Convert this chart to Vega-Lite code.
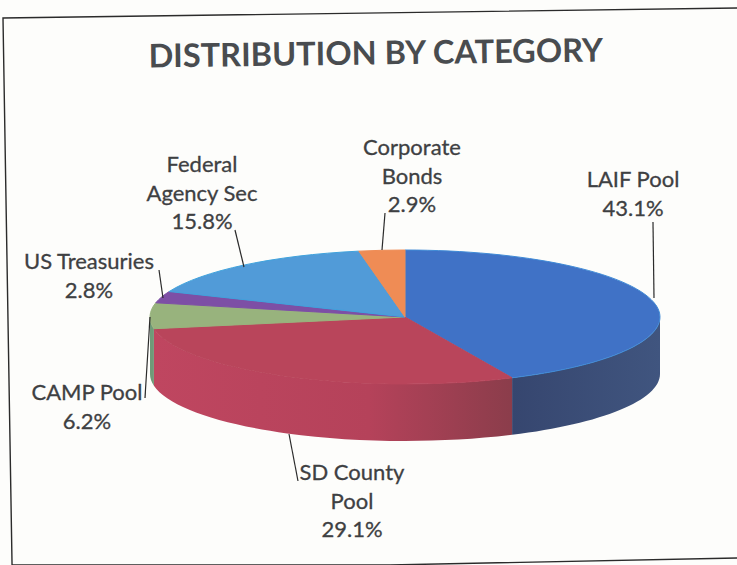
{
"$schema":"https://vega.github.io/schema/vega-lite/v6.json",
"width":737,"height":565,"padding":0,"autosize":{"type":"none"},
"background":"#fdfdfb",
"view":{"stroke":null},
"title":{"text":"DISTRIBUTION BY CATEGORY","font":"Lato","fontSize":32.5,"fontWeight":"bold","color":"#494c4f","anchor":"middle","frame":"group","offset":0,"baseline":"alphabetic","dx":6,"dy":103,"angle":-0.75},
"data":{"values":[
{"category":"LAIF Pool","share":43.1,"label":"LAIF Pool\n43.1%"},
{"category":"SD County Pool","share":29.1,"label":"SD County\nPool\n29.1%"},
{"category":"CAMP Pool","share":6.2,"label":"CAMP Pool\n6.2%"},
{"category":"US Treasuries","share":2.8,"label":"US Treasuries\n2.8%"},
{"category":"Federal Agency Sec","share":15.8,"label":"Federal\nAgency Sec\n15.8%"},
{"category":"Corporate Bonds","share":2.9,"label":"Corporate\nBonds\n2.9%"}
]},
"encoding":{},
"resolve":{"scale":{"x":"independent","y":"independent","shape":"independent","color":"independent","stroke":"independent","fill":"independent"}},
"layer":[
{"data":{"values":[{"part":"page frame"}]},
 "mark":{"type":"point","filled":false,"opacity":1,"stroke":"#2b2b2b","strokeWidth":1.4,"size":260100},
 "encoding":{
  "x":{"datum":405,"type":"quantitative","scale":{"domain":[0,737],"range":[0,737]},"axis":null},
  "y":{"datum":317,"type":"quantitative","scale":{"domain":[0,565],"range":[0,565]},"axis":null},
  "shape":{"value":"M1.302 -1.2118 L-1.5765 -1.1725 L-1.541 0.9725 L-0.0588 0.9725 L1.302 0.9451"}}},
{"transform":[{"filter":"datum.category==='LAIF Pool'"}],
 "mark":{"type":"point","filled":true,"opacity":1,"size":260100,"fill":{"gradient":"linear","x1":0,"y1":0,"x2":1,"y2":0,"stops":[{"offset":0,"color":"#36466f"},{"offset":1,"color":"#40557f"}]}},
 "encoding":{
  "x":{"datum":405,"type":"quantitative","scale":{"domain":[0,737],"range":[0,737]},"axis":null},
  "y":{"datum":317,"type":"quantitative","scale":{"domain":[0,565],"range":[0,565]},"axis":null},
  "shape":{"value":"M1 0 A1 .2627 0 0 1 .4199 .2384 L.4199 .4619 A1 .2627 0 0 0 1 .2235 Z"}}},
{"transform":[{"filter":"datum.category==='SD County Pool'"}],
 "mark":{"type":"point","filled":true,"opacity":1,"size":260100,"fill":{"gradient":"linear","x1":0,"y1":0,"x2":1,"y2":0,"stops":[{"offset":0,"color":"#bf4660"},{"offset":0.6,"color":"#b5425a"},{"offset":1,"color":"#8b3d4b"}]}},
 "encoding":{
  "x":{"datum":405,"type":"quantitative","scale":{"domain":[0,737],"range":[0,737]},"axis":null},
  "y":{"datum":317,"type":"quantitative","scale":{"domain":[0,565],"range":[0,565]},"axis":null},
  "shape":{"value":"M.4199 .2384 A1 .2627 0 0 1 -.9846 .046 L-.9846 .2695 A1 .2627 0 0 0 .4199 .4619 Z"}}},
{"transform":[{"filter":"datum.category==='CAMP Pool'"}],
 "mark":{"type":"point","filled":true,"opacity":1,"size":260100,"fill":"#6f9a78"},
 "encoding":{
  "x":{"datum":405,"type":"quantitative","scale":{"domain":[0,737],"range":[0,737]},"axis":null},
  "y":{"datum":317,"type":"quantitative","scale":{"domain":[0,565],"range":[0,565]},"axis":null},
  "shape":{"value":"M-.9846 .046 A1 .2627 0 0 1 -1 0 L-1 .2235 A1 .2627 0 0 0 -.9846 .2695 Z"}}},
{"mark":{"type":"point","filled":true,"opacity":1,"size":260100,"strokeWidth":1},
 "encoding":{
  "x":{"datum":405,"type":"quantitative","scale":{"domain":[0,737],"range":[0,737]},"axis":null},
  "y":{"datum":317,"type":"quantitative","scale":{"domain":[0,565],"range":[0,565]},"axis":null},
  "fill":{"field":"category","type":"nominal","legend":null,"scale":{"domain":["LAIF Pool","SD County Pool","CAMP Pool","US Treasuries","Federal Agency Sec","Corporate Bonds"],"range":["#4072c6","#b9455b","#98b37d","#7d4fa5","#519bd8","#ef8c55"]}},
  "stroke":{"field":"category","type":"nominal","legend":null,"scale":{"domain":["LAIF Pool","SD County Pool","CAMP Pool","US Treasuries","Federal Agency Sec","Corporate Bonds"],"range":["#3f8ad6","#b9455b","#98b37d","#7d4fa5","#3fa2dc","#ef8c55"]}},
  "shape":{"field":"category","type":"nominal","legend":null,"scale":{"domain":["LAIF Pool","SD County Pool","CAMP Pool","US Treasuries","Federal Agency Sec","Corporate Bonds"],"range":[
   "M0 0 L0 -.2627 A1 .2627 0 0 1 .4199 .2384 Z",
   "M0 0 L.4199 .2384 A1 .2627 0 0 1 -.9846 .046 Z",
   "M0 0 L-.9846 .046 A1 .2627 0 0 1 -.9773 -.0557 Z",
   "M0 0 L-.9773 -.0557 A1 .2627 0 0 1 -.925 -.0998 Z",
   "M0 0 L-.925 -.0998 A1 .2627 0 0 1 -.1812 -.2583 Z",
   "M0 0 L-.1812 -.2583 A1 .2627 0 0 1 0 -.2627 Z"]}}}},
{"mark":{"type":"point","filled":false,"opacity":1,"stroke":"#2b2b2b","strokeWidth":1.2,"size":260100},
 "encoding":{
  "x":{"datum":405,"type":"quantitative","scale":{"domain":[0,737],"range":[0,737]},"axis":null},
  "y":{"datum":317,"type":"quantitative","scale":{"domain":[0,565],"range":[0,565]},"axis":null},
  "shape":{"field":"category","type":"nominal","legend":null,"scale":{"domain":["LAIF Pool","SD County Pool","CAMP Pool","US Treasuries","Federal Agency Sec","Corporate Bonds"],"range":[
   "M.9725 -.3725 L.9765 -.0745",
   "M-.4549 .4588 L-.4196 .6431",
   "M-1 0 L-1.0196 .3176",
   "M-.9647 -.1843 L-.949 -.0745",
   "M-.6667 -.3412 L-.6314 -.1961",
   "M-.0784 -.4078 L-.0902 -.2627"]}}}},
{"mark":{"type":"text","font":"Lato","fontSize":22,"fontWeight":"normal","color":"#3e4042","stroke":"#3e4042","strokeWidth":0.3,"lineBreak":"\n","lineHeight":28.7,"align":"center","baseline":"middle"},
 "encoding":{
  "x":{"field":"share","type":"quantitative","axis":null,"scale":{"zero":false,"nice":false,"domain":[2.8,2.9,6.2,15.8,29.1,43.1],"range":[89,412,87,202,352,633]}},
  "y":{"field":"share","type":"quantitative","axis":null,"scale":{"zero":false,"nice":false,"domain":[2.8,2.9,6.2,15.8,29.1,43.1],"range":[262,148,393,165,473,180]}},
  "text":{"field":"label","type":"nominal"}}}
]
}
